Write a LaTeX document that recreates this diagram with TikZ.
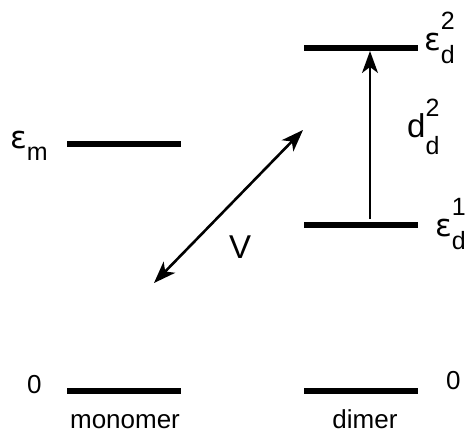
\documentclass[tikz,border=0pt]{standalone}
\usepackage{fontspec}
\setmainfont{Liberation Sans}
\newfontfamily\epsfont{DejaVu Sans}
\usetikzlibrary{arrows.meta}
\newcommand\scriptsz{\fontsize{25}{29}\selectfont}
\newcommand\eps{{\epsfont\fontsize{31}{36}\selectfont ε}}
\newcommand\lvlab[4]{#1\rlap{\scriptsz\raisebox{21pt}{#2}}{\scriptsz\raisebox{-#4}{#3}}}
\tikzset{tipst/.tip={Stealth[length=22pt,width=16pt,inset=6pt]}}
\begin{document}
\begin{tikzpicture}[x=1pt,y=-1pt,
  level/.style={line width=5.5pt},
  big/.style={font=\fontsize{33}{38}\selectfont, inner sep=0pt, anchor=base west},
  small/.style={font=\fontsize{26}{30}\selectfont, inner sep=0pt}]
\useasboundingbox (0,0) rectangle (469,432);
% level end points
\coordinate (mEL) at (67,144);  \coordinate (mER) at (181,144);
\coordinate (m0L) at (67,391);  \coordinate (m0R) at (181,391);
\coordinate (d2L) at (304,48);  \coordinate (d2R) at (418,48);
\coordinate (d1L) at (304,225); \coordinate (d1R) at (418,225);
\coordinate (d0L) at (304,391); \coordinate (d0R) at (418,391);
\draw[level] (mEL) -- (mER);
\draw[level] (m0L) -- (m0R);
\draw[level] (d2L) -- (d2R);
\draw[level] (d1L) -- (d1R);
\draw[level] (d0L) -- (d0R);
% arrows
\coordinate (up0) at (370,219); \coordinate (up1) at (370,51);
\draw[-tipst, line width=1.8pt] (up0) -- (up1);
\coordinate (vA) at (154,283); \coordinate (vB) at (303,130);
\draw[tipst-tipst, line width=2.6pt] (vA) -- (vB);
% labels
\node[big] (lem) at (10,148) {\lvlab{\eps}{}{m}{12pt}};
\node[big] (led2) at (424,50) {\lvlab{\eps}{2}{d}{13pt}};
\node[big] (led1) at (435,236) {\lvlab{\eps}{1}{d}{13pt}};
\node[big] (ldd) at (407,137) {\lvlab{d}{2}{d}{17pt}};
\node[big] (lV) at (229,258) {V};
\node[small, anchor=base west] (lz1) at (27,393) {0};
\node[small, anchor=base west] (lz2) at (446,389) {0};
\node[small, anchor=base] (lmono) at (125,428) {monomer};
\node[small, anchor=base] (ldim) at (365,428) {dimer};
\end{tikzpicture}
\end{document}
